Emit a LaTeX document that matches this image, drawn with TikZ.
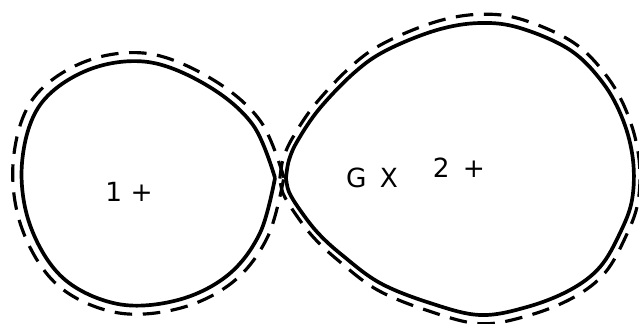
\documentclass[tikz,border=0pt]{standalone}
\usepackage{fontspec}
\setsansfont{DejaVu Sans}
\usepackage{tikz}
\usetikzlibrary{positioning, calc}

% lobe outlines, relative to each lobe's centre (units: px of the sketch)
\newcommand{\leftlobe}{plot[smooth, tension=0.6] coordinates {
    (127,-5) (105,-58) (60,-97) (0,-121) (-60,-113) (-108,-78)
    (-126,-20) (-118,42) (-85,95) (-30,121) (30,117) (80,92)
    (112,50) (127,-5)}}
\newcommand{\rightlobe}{plot[smooth, tension=0.6] coordinates {
    (-174,9) (-171,-9) (-162,-29) (-140,-61) (-105,-97) (-73,-119)
    (-23,-139) (20,-146) (60,-141) (110,-119) (143,-86) (163,-49)
    (173,-9) (172,31) (160,64) (140,98) (110,121) (67,138) (20,146)
    (-30,134) (-80,114) (-118,86) (-142,64) (-160,41) (-171,23) (-174,9)}}

\begin{document}
\begin{tikzpicture}[
    x=0.02cm, y=-0.02cm,
    lobe/.style={black, line width=2.1pt, line join=round},
    halo/.style={black, line width=1.8pt, dash pattern=on 10pt off 6pt},
    mark label/.style={font=\sffamily\fontsize{15}{18}\selectfont, inner sep=0pt}
]
\useasboundingbox (0,0) rectangle (639,324);

% --- 1. Left lobe ---
\begin{scope}[shift={(148,183)}]
    \draw[lobe] \leftlobe;
    \draw[halo, xscale=1.07, yscale=1.07] \leftlobe;
\end{scope}

% --- 2. Right lobe ---
\begin{scope}[shift={(460,169)}]
    \draw[lobe] \rightlobe;
    \draw[halo, xscale=1.035, yscale=1.06] \rightlobe;
\end{scope}

% --- 3. Labels ---
\node[mark label] (one) at (129,192) {1 +};
\node[mark label] (gx) at (372,178) {G\enspace X};
\node[mark label] (two) at (459,168) {2\enspace +};

\end{tikzpicture}
\end{document}
